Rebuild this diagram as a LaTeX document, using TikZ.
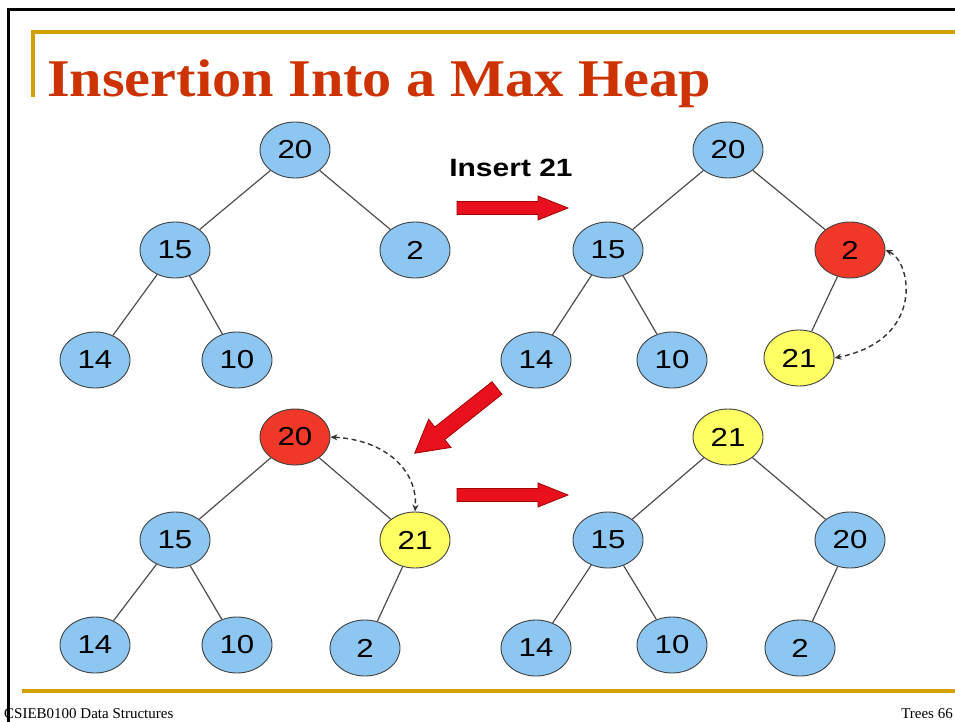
\documentclass[tikz,border=0pt]{standalone}
\usepackage{fontspec}
\usetikzlibrary{arrows.meta,shapes.geometric}
\newfontfamily\titlefont[FakeStretch=1.1]{Liberation Serif}
\newfontfamily\footfont{Liberation Serif}
\newfontfamily\nodefont[FakeStretch=1.2]{Liberation Sans}
\definecolor{gold}{RGB}{212,160,0}
\definecolor{titlered}{RGB}{204,51,0}
\definecolor{nblue}{RGB}{141,198,240}
\definecolor{nred}{RGB}{240,56,40}
\definecolor{nyellow}{RGB}{255,255,100}
\definecolor{arrowred}{RGB}{232,16,28}
\definecolor{arrowdark}{RGB}{160,0,0}
\newcommand{\blockarrow}[7]{%
  \begin{scope}[shift={(#1,#2)},rotate=#3]
    \draw[redarrow] (0,-#5) -- (#4-#7,-#5) -- (#4-#7,-#6) -- (#4,0) -- (#4-#7,#6) -- (#4-#7,#5) -- (0,#5) -- cycle;
  \end{scope}}
\tikzset{
  hnode/.style={ellipse, draw=black!75, line width=0.9pt, minimum width=70pt, minimum height=56pt, inner sep=0pt, font=\nodefont\fontsize{26}{26}\selectfont},
  bnode/.style={hnode, fill=nblue},
  rnode/.style={hnode, fill=nred},
  ynode/.style={hnode, fill=nyellow},
  edge/.style={draw=black!70, line width=1.2pt},
  swap/.style={draw=black!80, dash pattern=on 5pt off 3.5pt, line width=1.4pt, {Stealth[length=7pt,width=6pt]}-{Stealth[length=7pt,width=6pt]}},
  redarrow/.style={fill=arrowred, draw=arrowdark, line width=0.8pt, line join=miter},
}
\begin{document}
\begin{tikzpicture}[x=1pt,y=-1pt]
\useasboundingbox (0,0) rectangle (955,722);
% frame
\draw[line width=3pt] (8,722) -- (8,10) -- (960,10);
\draw[gold, line width=3.5pt] (33,97) -- (33,32) -- (960,32);
\draw[gold, line width=4pt] (22,691) -- (960,691);
\node[anchor=base west, inner sep=0pt, text=titlered, font=\titlefont\bfseries\fontsize{53}{53}\selectfont] (title) at (47,97) {Insertion Into a Max Heap};
\node[anchor=base west, inner sep=0pt, font=\footfont\fontsize{15}{15}\selectfont] (foot) at (4,718) {CSIEB0100 Data Structures};
\node[anchor=base east, inner sep=0pt, font=\footfont\fontsize{15}{15}\selectfont] (page) at (953,718) {Trees 66};
% tree 1
\node[bnode] (a20) at (295,150) {20};
\node[bnode] (a15) at (175,250) {15};
\node[bnode] (a2) at (415,250) {2};
\node[bnode] (a14) at (95,360) {14};
\node[bnode] (a10) at (237,360) {10};
\draw[edge] (a20) -- (a15); \draw[edge] (a20) -- (a2);
\draw[edge] (a15) -- (a14); \draw[edge] (a15) -- (a10);
% tree 2
\node[bnode] (b20) at (728,150) {20};
\node[bnode] (b15) at (608,250) {15};
\node[rnode] (b2) at (850,250) {2};
\node[bnode] (b14) at (536,360) {14};
\node[bnode] (b10) at (672,360) {10};
\node[ynode] (b21) at (799,358) {21};
\draw[edge] (b20) -- (b15); \draw[edge] (b20) -- (b2);
\draw[edge] (b15) -- (b14); \draw[edge] (b15) -- (b10);
\draw[edge] (b2) -- (b21);
\draw[swap] (b2.east) .. controls (912,262) and (925,340) .. (b21.east);
% tree 3
\node[rnode] (c20) at (295,437) {20};
\node[bnode] (c15) at (175,540) {15};
\node[ynode] (c21) at (415,540) {21};
\node[bnode] (c14) at (95,645) {14};
\node[bnode] (c10) at (237,645) {10};
\node[bnode] (c2) at (365,648) {2};
\draw[edge] (c20) -- (c15); \draw[edge] (c20) -- (c21);
\draw[edge] (c15) -- (c14); \draw[edge] (c15) -- (c10);
\draw[edge] (c21) -- (c2);
\draw[swap] (c20.east) .. controls (385,440) and (418,470) .. (c21.north);
% tree 4
\node[ynode] (d21) at (728,437) {21};
\node[bnode] (d15) at (608,540) {15};
\node[bnode] (d20) at (850,540) {20};
\node[bnode] (d14) at (536,648) {14};
\node[bnode] (d10) at (672,645) {10};
\node[bnode] (d2) at (800,648) {2};
\draw[edge] (d21) -- (d15); \draw[edge] (d21) -- (d20);
\draw[edge] (d15) -- (d14); \draw[edge] (d15) -- (d10);
\draw[edge] (d20) -- (d2);
% label and arrows
\node[font=\nodefont\bfseries\fontsize{25}{25}\selectfont, inner sep=0pt] (ins) at (511,168) {Insert 21};
\blockarrow{457}{208}{0}{111}{6.5}{12}{30}
\blockarrow{497}{388}{-141.6}{105}{8}{18}{32}
\blockarrow{457}{495}{0}{111}{6.5}{12}{30}
\end{tikzpicture}
\end{document}
